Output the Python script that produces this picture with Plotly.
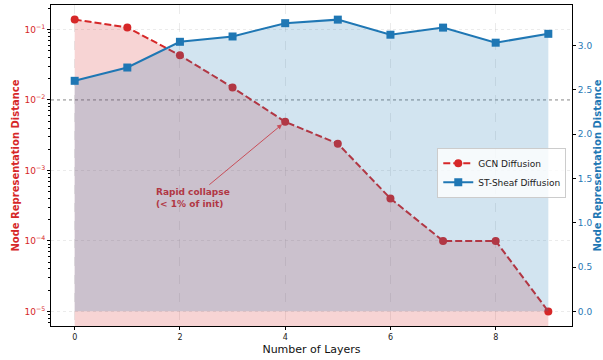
import numpy as np
import plotly.graph_objects as go

layers = [0, 1, 2, 3, 4, 5, 6, 7, 8, 9]
gcn = [0.138, 0.107, 0.043, 0.015, 0.0049, 0.0024, 0.0004, 0.0001, 0.0001, 0.00001]
sheaf = [2.60, 2.75, 3.04, 3.10, 3.25, 3.29, 3.12, 3.20, 3.03, 3.13]
log_ticks = [1e-5, 1e-4, 1e-3, 1e-2, 1e-1]
log_labels = ["10<sup>−5</sup>", "10<sup>−4</sup>", "10<sup>−3</sup>", "10<sup>−2</sup>", "10<sup>−1</sup>"]
right_ticks = [0, 0.5, 1.0, 1.5, 2.0, 2.5, 3.0]

RED = "#d62728"
BLUE = "#1f77b4"
DARKRED = "rgb(177,55,68)"
FONT = "DejaVu Sans"
GRID = "rgba(176,176,176,0.25)"

fig = go.Figure()

fig.add_trace(go.Scatter(x=layers, y=[1e-7] * len(layers), mode="lines",
                         line=dict(width=0), showlegend=False, hoverinfo="skip", yaxis="y"))
fig.add_trace(go.Scatter(x=layers, y=gcn, mode="lines", line=dict(width=0),
                         fill="tonexty", fillcolor="rgba(214,39,40,0.2)",
                         showlegend=False, hoverinfo="skip", yaxis="y"))
fig.add_trace(go.Scatter(x=layers, y=gcn, mode="lines+markers", name="GCN Diffusion",
                         line=dict(color=RED, width=2, dash="7px,3px"),
                         marker=dict(symbol="circle", size=8, color=RED),
                         yaxis="y"))
fig.add_trace(go.Scatter(x=layers, y=sheaf, mode="lines", line=dict(width=0),
                         fill="tozeroy", fillcolor="rgba(31,119,180,0.2)",
                         showlegend=False, hoverinfo="skip", yaxis="y2"))
fig.add_trace(go.Scatter(x=layers, y=sheaf, mode="lines+markers", name="ST-Sheaf Diffusion",
                         line=dict(color=BLUE, width=2),
                         marker=dict(symbol="square", size=8, color=BLUE),
                         yaxis="y2"))

minor_vals = [m * 10.0 ** e for e in range(-6, 0) for m in range(2, 10)]

fig.update_layout(
    width=603, height=360,
    margin=dict(l=51, r=31, t=5, b=34),
    paper_bgcolor="white", plot_bgcolor="white",
    font=dict(family=FONT, size=9, color="#222"),
    showlegend=True,
    legend=dict(x=0.989, y=0.555, xanchor="right", yanchor="top", traceorder="normal",
                bgcolor="rgba(255,255,255,0.8)", bordercolor="#cccccc", borderwidth=1,
                font=dict(size=9, color="#222"), itemwidth=30, tracegroupgap=0),
    xaxis=dict(range=[-0.45, 9.45], tickvals=[0, 2, 4, 6, 8], automargin=False,
               showline=True, linecolor="black", linewidth=1, mirror=True,
               ticks="outside", ticklen=3, tickcolor="black",
               showgrid=True, gridcolor=GRID, griddash="dash", gridwidth=0.8,
               zeroline=False,
               title=dict(text="Number of Layers", font=dict(size=11, color="#111"), standoff=4),
               tickfont=dict(size=8, color="#222")),
    yaxis=dict(type="log", range=[-5.207, -0.653], tickvals=log_ticks, ticktext=log_labels,
               automargin=False,
               showline=True, linecolor="black", linewidth=1,
               ticks="outside", ticklen=3, tickcolor="black",
               minor=dict(tickvals=minor_vals, ticks="outside", ticklen=2, tickcolor="black", showgrid=False),
               showgrid=True, gridcolor=GRID, griddash="dot", gridwidth=0.8,
               zeroline=False,
               tickfont=dict(size=9, color=RED),
               title=dict(text="<b>Node Representation Distance</b>", font=dict(size=10, color=RED), standoff=2)),
    yaxis2=dict(overlaying="y", side="right", range=[-0.165, 3.455], automargin=False,
                tickvals=right_ticks, tickformat=".1f",
                showline=True, linecolor="black", linewidth=1,
                ticks="outside", ticklen=3, tickcolor="black",
                showgrid=False, zeroline=False,
                tickfont=dict(size=9, color=BLUE),
                title=dict(text="<b>Node Representation Distance</b>", font=dict(size=10, color=BLUE), standoff=2)),
)

fig.add_shape(type="line", xref="paper", x0=0, x1=1, yref="y", y0=0.01, y1=0.01,
              line=dict(color="rgba(110,110,110,0.8)", width=1, dash="dot"), layer="below")

fig.add_annotation(x=4, y=np.log10(gcn[4]), xref="x", yref="y",
                   ax=2.53, ay=-3.22, axref="x", ayref="y",
                   text="", showarrow=True, arrowhead=2, arrowsize=1, arrowwidth=1,
                   arrowcolor="rgba(200,60,70,0.85)", standoff=4)
fig.add_annotation(x=1.5, y=-3.39, xref="x", yref="y", xanchor="left", yanchor="middle",
                   text="<b>Rapid collapse<br>(< 1% of init)</b>", showarrow=False, align="left",
                   font=dict(size=9, color=DARKRED))

fig.write_html("out.html", config={"displayModeBar": False},
               post_script="document.body.style.margin='0';")
